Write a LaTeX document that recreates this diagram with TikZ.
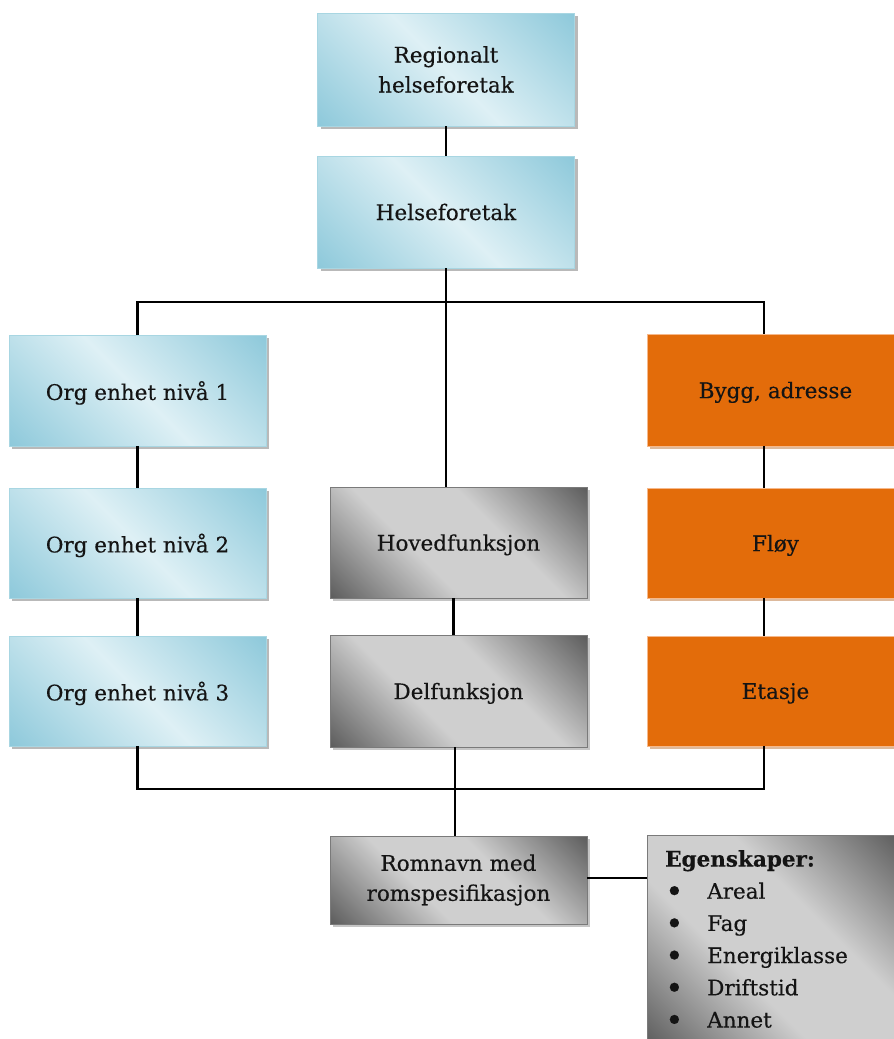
\documentclass[tikz,border=0pt]{standalone}
\usepackage{fontspec}
\setmainfont{DejaVu Serif}[FakeBold=0.35]
\usetikzlibrary{shadows,calc}

\definecolor{bluedark}{HTML}{8CC8DA}
\definecolor{bluelight}{HTML}{DEF0F5}
\definecolor{blueborder}{HTML}{A8D6E2}
\definecolor{graydark}{HTML}{5A5A5A}
\definecolor{graylight}{HTML}{CFCFCF}
\definecolor{grayborder}{HTML}{7A7A7A}
\definecolor{orangefill}{HTML}{E36C0A}
\definecolor{orangeborder}{HTML}{F6B88A}
\definecolor{txt}{HTML}{141414}

\pgfdeclareverticalshading{blueshade}{100bp}{color(0bp)=(bluedark); color(14bp)=(bluedark); color(50bp)=(bluelight); color(86bp)=(bluedark); color(100bp)=(bluedark)}
\pgfdeclareverticalshading{grayshade}{100bp}{color(0bp)=(graydark); color(14bp)=(graydark); color(40bp)=(graylight); color(60bp)=(graylight); color(86bp)=(graydark); color(100bp)=(graydark)}

\tikzset{
  box/.style={minimum width=257pt, inner sep=0pt, align=center, text=txt,
    font=\fontsize{21.5}{30}\selectfont, line width=0.8pt},
  bluebox/.style={box, draw=blueborder, shading=blueshade, shading angle=-45,
    drop shadow={shadow xshift=3pt, shadow yshift=-3pt, fill=gray, opacity=0.55}},
  graybox/.style={box, draw=grayborder, shading=grayshade, shading angle=-45,
    drop shadow={shadow xshift=3pt, shadow yshift=-3pt, fill=gray, opacity=0.45}},
  orangebox/.style={box, draw=orangeborder, fill=orangefill,
    drop shadow={shadow xshift=3pt, shadow yshift=-3pt, fill=orangefill!60!gray, opacity=0.5}},
  conn/.style={line width=2.8pt, black}
}
\newcommand{\egbullet}{\makebox[42pt][l]{\raisebox{-3.5pt}{\scalebox{1.45}{\textbullet}}}}

\begin{document}
\begin{tikzpicture}[x=1pt,y=-1pt]
\useasboundingbox (0,0) rectangle (894,1039);

% connector coordinates
\coordinate (tl) at (137.5,302);
\coordinate (tr) at (764,302);
\coordinate (bl) at (137.5,789);
\coordinate (br) at (764,789);
\coordinate (mid) at (455,789);

% nodes
\node[bluebox, minimum height=113pt] (reg) at (446,69.5) {Regionalt\\helseforetak};
\node[bluebox, minimum height=112pt] (hf) at (446,212) {Helseforetak};

\node[bluebox, minimum height=111pt, text depth=0pt] (org1) at (137.5,390.5) {Org enhet nivå 1};
\node[bluebox, minimum height=110pt, text depth=0pt] (org2) at (137.5,543) {Org enhet nivå 2};
\node[bluebox, minimum height=110pt, text depth=0pt] (org3) at (137.5,691) {Org enhet nivå 3};

\node[graybox, minimum height=111pt, text depth=0pt] (hoved) at (458.5,542.5) {Hovedfunksjon};
\node[graybox, minimum height=112pt, text depth=0pt] (del) at (458.5,691) {Delfunksjon};

\node[orangebox, minimum height=112pt, text depth=0pt] (bygg) at (775.5,390) {Bygg, adresse};
\node[orangebox, minimum height=110pt, text depth=0pt] (floy) at (775.5,543) {Fløy};
\node[orangebox, minimum height=110pt, text depth=0pt] (etasje) at (775.5,691) {Etasje};

\node[graybox, minimum height=88pt] (rom) at (458.5,880) {Romnavn med\\romspesifikasjon};
\node[graybox, minimum width=252pt, minimum height=210pt, anchor=north west] (eg) at (647,835) {};
\node[anchor=north west, inner sep=0pt, align=left, text=txt,
      font=\fontsize{21.5}{32.2}\selectfont] (egtxt) at ($(eg.north west)+(18,15)$)
  {\textbf{Egenskaper:}\\
   \egbullet Areal\\
   \egbullet Fag\\
   \egbullet Energiklasse\\
   \egbullet Driftstid\\
   \egbullet Annet};

% connectors
\coordinate (rc) at ($(rom.east)+(0,-2)$);
\draw[conn] (reg.south) -- (hf.north);
\draw[conn] (hf.south) -- (hf.south |- hoved.north);
\draw[conn] (org1.north) -- (tl) -- (tr) -- (tr |- bygg.north);
\draw[conn] (org1.south) -- (org2.north);
\draw[conn] (org2.south) -- (org3.north);
\draw[conn] (bygg.south -| tr) -- (floy.north -| tr);
\draw[conn] (floy.south -| tr) -- (etasje.north -| tr);
\draw[conn] ($(hoved.south)+(-5,0)$) -- ($(del.north)+(-5,0)$);
\draw[conn] (org3.south) -- (bl) -- (br) -- (br |- etasje.south);
\draw[conn] (del.south -| mid) -- (rom.north -| mid);
\draw[conn] (rc) -- (rc -| eg.west);
\end{tikzpicture}
\end{document}
